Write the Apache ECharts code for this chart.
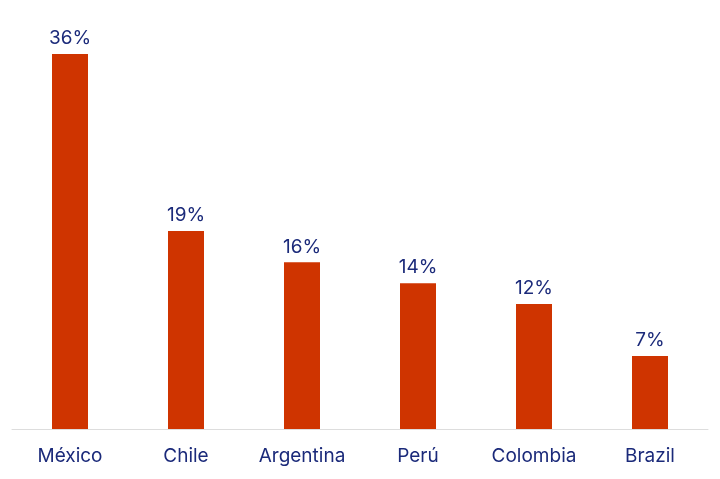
<!DOCTYPE html>
<html><head><meta charset="utf-8">
<script src="https://cdn.jsdelivr.net/npm/echarts@6/dist/echarts.min.js"></script>
<style>html,body{margin:0;background:#fff}#c{width:720px;height:479px}</style>
</head><body><div id="c"></div>
<script>
const categories = ["México","Chile","Argentina","Perú","Colombia","Brazil"];
const values = [36,19,16,14,12,7];
const chart = echarts.init(document.getElementById('c'));
chart.setOption({
  animation:false,
  grid:{left:12,right:12,top:54,bottom:50,containLabel:false},
  xAxis:{type:'category',data:categories,
    axisLine:{lineStyle:{color:'#dddddd'}},axisTick:{show:false},
    axisLabel:{color:'#1b2a7a',fontSize:19,fontFamily:'Inter',margin:18}},
  yAxis:{type:'value',min:0,max:36,show:false,splitLine:{show:false}},
  series:[{type:'bar',data:values,barWidth:36,itemStyle:{color:'#cf3400'},
    label:{show:true,position:'top',formatter:'{c}%',color:'#1b2a7a',fontSize:19,fontFamily:'Inter',distance:6}}]
});
</script></body></html>
